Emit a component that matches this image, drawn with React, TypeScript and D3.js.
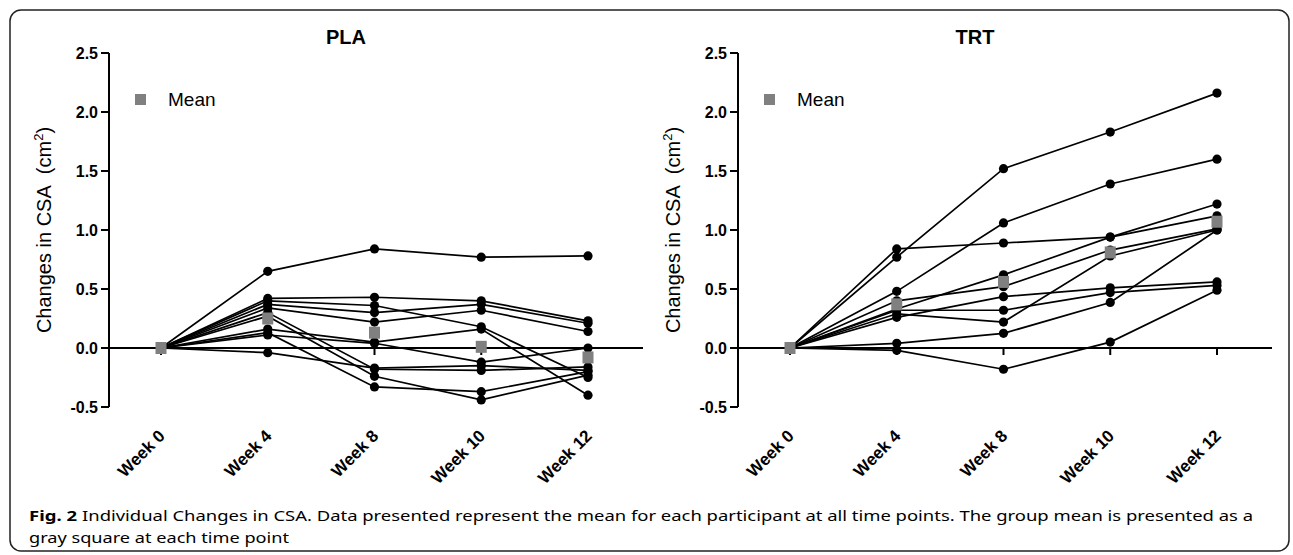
import React from 'react';
import * as d3 from 'd3';

// time points and axis ticks
const weeks = ['Week 0', 'Week 4', 'Week 8', 'Week 10', 'Week 12'];
const yTicks = [-0.5, 0, 0.5, 1, 1.5, 2, 2.5];

// PLA: one row per participant, values per week
const plaRows = [
  [0, 0.65, 0.84, 0.77, 0.78],
  [0, 0.42, 0.43, 0.4, 0.23],
  [0, 0.4, 0.36, 0.18, -0.25],
  [0, 0.37, 0.3, 0.37, 0.21],
  [0, 0.34, 0.22, 0.32, 0.14],
  [0, 0.3, -0.18, -0.19, -0.16],
  [0, 0.27, -0.24, -0.44, -0.23],
  [0, 0.16, 0.05, 0.16, -0.4],
  [0, 0.13, -0.33, -0.37, -0.2],
  [0, 0.11, 0.04, -0.12, 0.0],
  [0, -0.04, -0.17, -0.15, -0.19],
];
const plaMean = [0, 0.25, 0.13, 0.01, -0.08];

// TRT
const trtRows = [
  [0, 0.77, 1.52, 1.83, 2.16],
  [0, 0.48, 1.06, 1.39, 1.6],
  [0, 0.84, 0.89, 0.94, 1.22],
  [0, 0.33, 0.62, 0.94, 1.12],
  [0, 0.29, 0.22, 0.78, 1.0],
  [0, 0.26, 0.435, 0.51, 0.56],
  [0, 0.4, 0.52, 0.83, 1.01],
  [0, 0.32, 0.32, 0.47, 0.53],
  [0, 0.04, 0.124, 0.386, 1.0],
  [0, -0.02, -0.18, 0.05, 0.49],
];
const trtMean = [0, 0.37, 0.56, 0.81, 1.07];

const axisFont = '"Liberation Sans", Arial, sans-serif';
const captionFont = '"Noto Sans", sans-serif';

const Panel = ({ left, title, rows, mean }: { left: number; title: string; rows: number[][]; mean: number[] }) => {
  const x = d3.scalePoint<string>().domain(weeks).range([left + 52, left + 479]);
  const y = d3.scaleLinear().domain([-0.5, 2.5]).range([407, 53]);
  const line = d3
    .line<number>()
    .x((_, i) => x(weeks[i]) as number)
    .y((d) => y(d));

  return (
    <g fontFamily={axisFont}>
      <text x={left + 237} y={44} textAnchor="middle" fontWeight="bold" fontSize={20}>
        {title}
      </text>

      {/* y axis */}
      <line x1={left} x2={left} y1={y(2.5)} y2={y(-0.5)} stroke="#000" strokeWidth={2} />
      {yTicks.map((t) => (
        <g key={t}>
          <line x1={left - 8} x2={left} y1={y(t)} y2={y(t)} stroke="#000" strokeWidth={2} />
          <text x={left - 11} y={y(t)} dy="0.36em" textAnchor="end" fontWeight="bold" fontSize={16}>
            {t.toFixed(1)}
          </text>
        </g>
      ))}
      <text
        transform={`translate(${left - 65},${(y(2.5) + y(-0.5)) / 2}) rotate(-90)`}
        textAnchor="middle"
        dy="0.35em"
        fontSize={20}
      >
        Changes in CSA{'\u00a0\u00a0'}(cm<tspan dy={-8} fontSize={13}>2</tspan>
        <tspan dy={8}>)</tspan>
      </text>

      {/* x axis at zero */}
      <line x1={left} x2={left + 534} y1={y(0)} y2={y(0)} stroke="#000" strokeWidth={2} />
      {weeks.map((w) => (
        <g key={w}>
          <line x1={x(w)} x2={x(w)} y1={y(0)} y2={y(0) + 7} stroke="#000" strokeWidth={2} />
          <text
            transform={`translate(${(x(w) as number) + 5},437) rotate(-45)`}
            textAnchor="end"
            fontWeight="bold"
            fontSize={17}
          >
            {w}
          </text>
        </g>
      ))}

      {/* participants */}
      {rows.map((r, i) => (
        <g key={i}>
          <path d={line(r) as string} fill="none" stroke="#000" strokeWidth={1.7} />
          {r.map((v, j) => (
            <circle key={j} cx={x(weeks[j])} cy={y(v)} r={4.6} fill="#000" />
          ))}
        </g>
      ))}

      {/* group mean */}
      {mean.map((v, j) => (
        <rect key={j} x={(x(weeks[j]) as number) - 5.5} y={y(v) - 6} width={11} height={12} fill="#808080" />
      ))}

      {/* legend */}
      <rect x={left + 26} y={94} width={11} height={11} fill="#808080" />
      <text x={left + 59} y={106} fontSize={19}>
        Mean
      </text>
    </g>
  );
};

export default function App() {
  return (
    <svg width={1293} height={555} style={{ position: 'absolute', left: 0, top: 0, background: '#fff' }}>
      <rect x={10} y={10} width={1279} height={541} rx={11} fill="#fff" stroke="#222" strokeWidth={1.5} />
      <Panel left={109} title="PLA" rows={plaRows} mean={plaMean} />
      <Panel left={738} title="TRT" rows={trtRows} mean={trtMean} />
      <text x={29} y={521} fontFamily={captionFont} fontSize={15} fontWeight="bold" textLength={48} lengthAdjust="spacingAndGlyphs">
        Fig. 2
      </text>
      <text x={82} y={521} fontFamily={captionFont} fontSize={15} textLength={1171} lengthAdjust="spacingAndGlyphs">
        Individual Changes in CSA. Data presented represent the mean for each participant at all time points. The
        group mean is presented as a
      </text>
      <text x={29} y={543} fontFamily={captionFont} fontSize={15} textLength={260} lengthAdjust="spacingAndGlyphs">
        gray square at each time point
      </text>
    </svg>
  );
}
